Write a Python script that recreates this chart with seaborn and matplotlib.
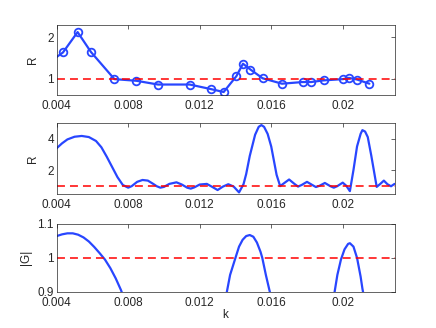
import numpy as np
import pandas as pd
import matplotlib
matplotlib.use("Agg")
import matplotlib.pyplot as plt
import seaborn as sns

# top panel: sampled R with markers
k_top = [0.0036, 0.00435, 0.00517, 0.00592, 0.00723, 0.00846, 0.00967, 0.01144, 0.01263,
         0.01334, 0.01405, 0.01442, 0.01484, 0.01552, 0.01660, 0.01776, 0.01823, 0.01894,
         0.02002, 0.02034, 0.02080, 0.02149]
R_top = [1.40, 1.63, 2.12, 1.64, 0.99, 0.95, 0.86, 0.86, 0.75,
         0.68, 1.06, 1.36, 1.22, 1.01, 0.88, 0.92, 0.92, 0.96,
         0.99, 1.02, 0.98, 0.88]

# middle panel: continuous R
k_mid = [0.0040, 0.0043, 0.0046, 0.0050, 0.0054, 0.0058, 0.0062, 0.0065, 0.0068, 0.0071,
         0.0074, 0.0077, 0.0080, 0.0082, 0.0085, 0.0088, 0.0091, 0.0094, 0.0096, 0.0098,
         0.0100, 0.0103, 0.0107, 0.0110, 0.0113, 0.0115, 0.0117, 0.0120, 0.0124, 0.0127,
         0.0130, 0.0133, 0.0136, 0.0139, 0.0142, 0.01445, 0.0146, 0.0148, 0.0151, 0.0153,
         0.01545, 0.0156, 0.0158, 0.0160, 0.0163, 0.0165, 0.0167, 0.0170, 0.0173, 0.0175,
         0.0177, 0.0180, 0.0183, 0.0185, 0.0187, 0.0190, 0.0193, 0.0195, 0.0197, 0.0200,
         0.0202, 0.0204, 0.0206, 0.0208, 0.0210, 0.0211, 0.02125, 0.0214, 0.0216, 0.0219,
         0.0221, 0.0223, 0.0225, 0.0227, 0.0229]
R_mid = [3.39, 3.70, 3.95, 4.12, 4.17, 4.10, 3.85, 3.45, 2.85, 2.20,
         1.55, 1.05, 0.88, 0.98, 1.25, 1.37, 1.33, 1.12, 0.97, 0.88,
         0.93, 1.12, 1.22, 1.08, 0.88, 0.82, 0.90, 1.08, 1.12, 0.93,
         0.73, 0.95, 1.10, 0.95, 0.58, 1.10, 1.75, 2.90, 4.25, 4.75,
         4.86, 4.75, 4.30, 3.50, 1.70, 0.98, 1.15, 1.40, 1.12, 0.95,
         1.05, 1.25, 1.05, 0.92, 1.00, 1.18, 0.98, 0.88, 0.98, 1.20,
         1.00, 0.66, 2.00, 3.50, 4.30, 4.54, 4.45, 4.10, 2.90, 0.93,
         1.12, 1.33, 1.10, 0.97, 1.12]

# bottom panel: |G| humps (three separate pieces)
k_g1 = [0.0040, 0.0043, 0.0046, 0.0049, 0.0052, 0.0055, 0.0058, 0.0061, 0.0064, 0.0067,
        0.0070, 0.0073, 0.0076, 0.0077]
G_g1 = [1.064, 1.069, 1.072, 1.072, 1.068, 1.060, 1.048, 1.032, 1.014, 0.995,
        0.970, 0.940, 0.905, 0.890]
k_g2 = [0.0135, 0.0137, 0.0140, 0.0142, 0.0144, 0.0146, 0.0148, 0.0150, 0.0152, 0.0154,
        0.0155, 0.0157, 0.0159, 0.01597]
G_g2 = [0.895, 0.950, 1.000, 1.033, 1.053, 1.064, 1.067, 1.062, 1.045, 1.018,
        1.000, 0.950, 0.905, 0.890]
k_g3 = [0.01953, 0.0197, 0.0199, 0.0201, 0.0203, 0.0204, 0.0206, 0.0208, 0.0210, 0.0211,
        0.02117]
G_g3 = [0.895, 0.950, 0.995, 1.025, 1.041, 1.043, 1.033, 1.000, 0.945, 0.910,
        0.890]

xticks = [0.004, 0.008, 0.012, 0.016, 0.02]
xtick_labels = ['0.004', '0.008', '0.012', '0.016', '0.02']

blue = '#2846ff'
red = '#ff0000'

sns.set_style('white')
plt.rcParams['font.family'] = ['Liberation Sans', 'DejaVu Sans']
plt.rcParams['font.size'] = 8.5

fig = plt.figure(figsize=(4.36, 3.28), dpi=100)
positions = [[0.13, 0.7093, 0.775, 0.2157],
             [0.13, 0.4096, 0.775, 0.2157],
             [0.13, 0.1100, 0.775, 0.2077]]
axes = [fig.add_axes(p) for p in positions]

df_g = pd.concat([
    pd.DataFrame({'k': k_g1, 'G': G_g1, 'seg': 1}),
    pd.DataFrame({'k': k_g2, 'G': G_g2, 'seg': 2}),
    pd.DataFrame({'k': k_g3, 'G': G_g3, 'seg': 3}),
])

ax = axes[0]
sns.lineplot(x=k_top, y=R_top, ax=ax, color=blue, lw=1.6, sort=False,
             marker='o', markersize=5.5, markerfacecolor='none',
             markeredgecolor=blue, markeredgewidth=1.3)
ax.set_ylim(0.6, 2.3)
ax.set_yticks([1, 2])
ax.set_yticklabels(['1', '2'])
ax.set_ylabel('R', labelpad=6)

ax = axes[1]
sns.lineplot(x=k_mid, y=R_mid, ax=ax, color=blue, lw=1.6, sort=False)
ax.set_ylim(0.5, 5)
ax.set_yticks([2, 4])
ax.set_yticklabels(['2', '4'])
ax.set_ylabel('R', labelpad=6)

ax = axes[2]
sns.lineplot(data=df_g, x='k', y='G', units='seg', estimator=None, ax=ax,
             color=blue, lw=1.6, sort=False)
ax.set_ylim(0.9, 1.1)
ax.set_yticks([0.9, 1.0, 1.1])
ax.set_yticklabels(['0.9', '1', '1.1'])
ax.set_ylabel('|G|', labelpad=4)
ax.set_xlabel('k', labelpad=0)

for ax in axes:
    ax.axhline(1, color=red, lw=1.1, dashes=(5.2, 3.3))
    ax.set_xlim(0.004, 0.0229)
    ax.set_xticks(xticks)
    ax.set_xticklabels(xtick_labels)
    if ax is not axes[2]:
        ax.set_xlabel('')
    ax.tick_params(direction='in', length=3, width=0.5, top=True, right=True,
                   colors='#262626', labelsize=8.5, pad=2)
    ax.tick_params(axis='x', pad=3.5)
    for s in ax.spines.values():
        s.set_color('#262626')
        s.set_linewidth(0.5)
        s.set_visible(True)

fig.savefig('out.png', dpi=100)
